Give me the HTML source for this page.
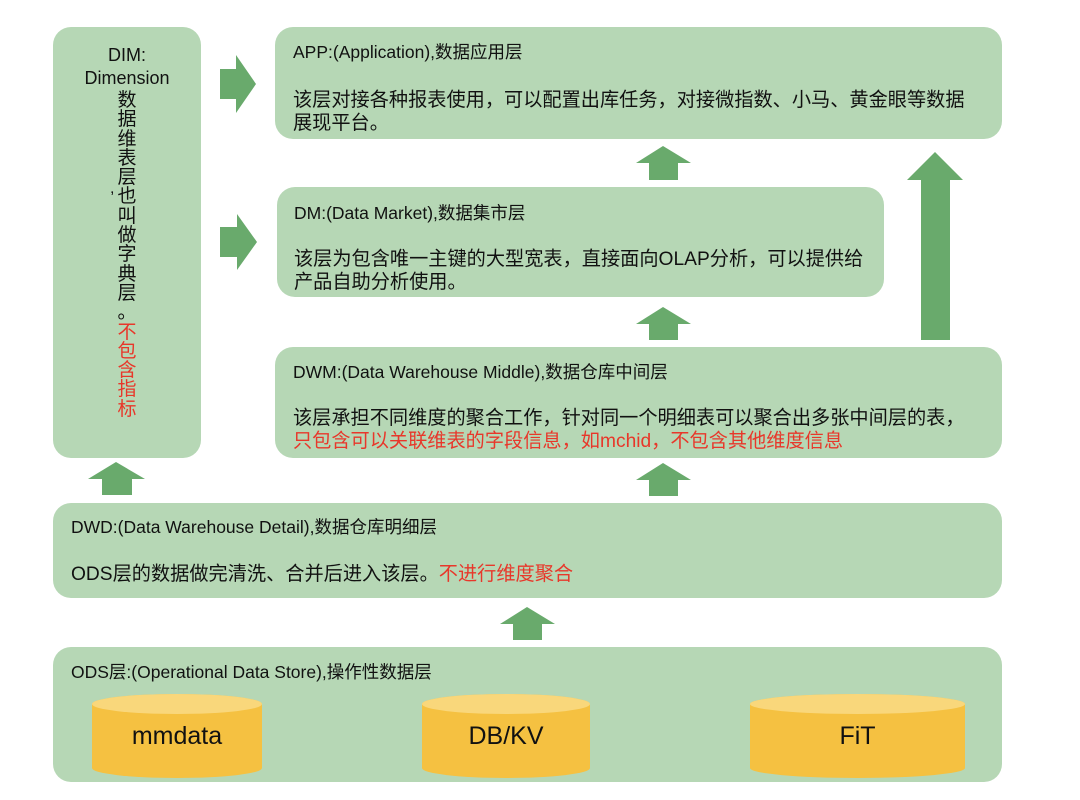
<!DOCTYPE html><html><head><meta charset="utf-8"><style>
body{margin:0;width:1080px;height:800px;background:#fff;position:relative;font-family:"Liberation Sans","Noto Sans CJK SC",sans-serif;color:#111;overflow:hidden}
.b{position:absolute;background:#b6d7b5;border-radius:18px}
.t{position:absolute;font-size:17.5px;white-space:nowrap;line-height:23px}
.m{font-size:19.2px}
.r{color:#e8372a}
svg{position:absolute;left:0;top:0}
.cyl{position:absolute;background:#f5c141;border-radius:50%/10px;}
.cyl .top{position:absolute;left:0;right:0;top:0;height:20px;border-radius:50%;background:#f9d77b}
.cyl span{position:absolute;left:0;right:0;top:28px;text-align:center;font-size:25px}
.v{position:absolute;left:116px;top:91px;width:22px;font-size:19px;line-height:19.3px;text-align:center}
</style></head><body>
<div class="b" style="left:53px;top:27px;width:148px;height:431px"></div>
<div class="b" style="left:275px;top:27px;width:727px;height:112px"></div>
<div class="b" style="left:277px;top:187px;width:607px;height:110px"></div>
<div class="b" style="left:275px;top:347px;width:727px;height:111px"></div>
<div class="b" style="left:53px;top:503px;width:949px;height:95px"></div>
<div class="b" style="left:53px;top:647px;width:949px;height:135px"></div>
<svg width="1080" height="800" fill="#69aa6c">
<polygon points="220,69 236,69 236,55 256,84 236,113 236,99 220,99"/>
<polygon points="220,227 237,227 237,214 257,242 237,270 237,257 220,257"/>
<polygon points="88,479 116,462 145,479 132,479 132,495 102,495 102,479"/>
<polygon points="636,163 663,146 691,163 678,163 678,180 649,180 649,163"/>
<polygon points="636,324 663,307 691,324 678,324 678,340 649,340 649,324"/>
<polygon points="636,480 663,463 691,480 678,480 678,496 649,496 649,480"/>
<polygon points="500,624 527,607 555,624 542,624 542,640 513,640 513,624"/>
<polygon points="907,180 935,152 963,180 950,180 950,340 921,340 921,180"/>
</svg>
<div class="t" style="left:53px;width:148px;top:44px;text-align:center;font-size:18px;line-height:23px">DIM:<br>Dimension</div>
<div class="v">数<br>据<br>维<br>表<br>层<br>也<br>叫<br>做<br>字<br>典<br>层<br>。<br><span class="r">不<br>包<br>含<br>指<br>标</span></div>
<div class="t" style="left:110px;top:177px;font-size:16px">,</div>
<div class="t" style="left:293px;top:41px">APP:(Application),数据应用层</div>
<div class="t m" style="left:293px;top:89px">该层对接各种报表使用，可以配置出库任务，对接微指数、小马、黄金眼等数据<br>展现平台。</div>
<div class="t" style="left:294px;top:202px">DM:(Data Market),数据集市层</div>
<div class="t m" style="left:294px;top:248px">该层为包含唯一主键的大型宽表，直接面向OLAP分析，可以提供给<br>产品自助分析使用。</div>
<div class="t" style="left:293px;top:361px">DWM:(Data Warehouse Middle),数据仓库中间层</div>
<div class="t m" style="left:293px;top:407px">该层承担不同维度的聚合工作，针对同一个明细表可以聚合出多张中间层的表，<br><span class="r">只包含可以关联维表的字段信息，如mchid，不包含其他维度信息</span></div>
<div class="t" style="left:71px;top:516px">DWD:(Data Warehouse Detail),数据仓库明细层</div>
<div class="t m" style="left:71px;top:563px">ODS层的数据做完清洗、合并后进入该层。<span class="r">不进行维度聚合</span></div>
<div class="t" style="left:71px;top:661px">ODS层:(Operational Data Store),操作性数据层</div>
<div class="cyl" style="left:92px;top:694px;width:170px;height:84px"><div class="top"></div><span>mmdata</span></div>
<div class="cyl" style="left:422px;top:694px;width:168px;height:84px"><div class="top"></div><span>DB/KV</span></div>
<div class="cyl" style="left:750px;top:694px;width:215px;height:84px"><div class="top"></div><span>FiT</span></div>
</body></html>
